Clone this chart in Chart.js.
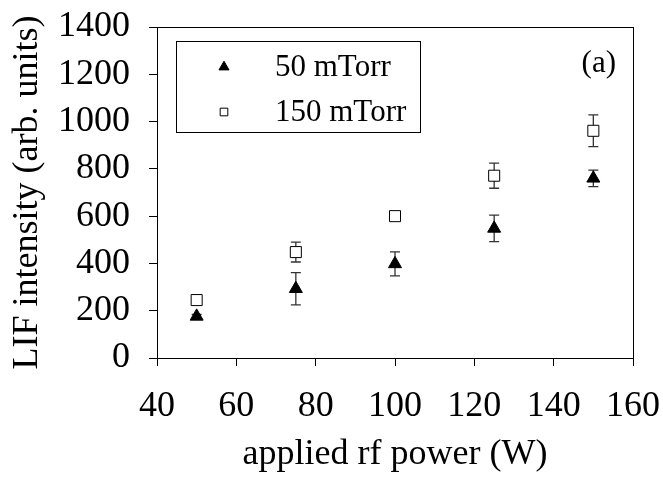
<!DOCTYPE html>
<html>
<head>
<meta charset="utf-8">
<script src="https://cdn.jsdelivr.net/npm/chart.js@4"></script>
<style>
  html, body { margin: 0; padding: 0; background: #fff; }
  #wrap { width: 663px; height: 478px; }
</style>
</head>
<body>
<div id="wrap"><canvas id="lif"></canvas></div>
<script>
// rf power sweep, LIF signal at two pressures
const powers = [50, 75, 100, 125, 150];
const lif50 = [176, 293, 398, 548, 760];
const err50 = [8, 68, 51, 56, 35];
const lif150 = [245, 448, 600, 771, 961];
const err150 = [8, 42, 8, 53, 67];
const xTicks = [40, 60, 80, 100, 120, 140, 160];
const yTicks = [0, 200, 400, 600, 800, 1000, 1200, 1400];
const seriesNames = ['50 mTorr', '150 mTorr'];

const SERIF = "'Liberation Serif', 'Times New Roman', serif";
Chart.defaults.font.family = SERIF;
Chart.defaults.color = '#000';

function toPoints(xs, ys, es) {
    return xs.map((x, i) => ({ x: x, y: ys[i], err: es[i] }));
}

// layout padding alone decides the plot area, so drop the label overhang
function fixBox(s, size) {
    if (s.isHorizontal()) s.height = size; else s.width = size;
    s.paddingLeft = s.paddingRight = s.paddingTop = s.paddingBottom = 0;
}

// vertical error bars with caps, under the markers
const errorBars = {
    id: 'errorBars',
    beforeDatasetsDraw(chart) {
        const ctx = chart.ctx;
        const yScale = chart.scales.y;
        ctx.save();
        ctx.strokeStyle = '#333';
        ctx.lineWidth = 1.3;
        chart.data.datasets.forEach((ds, i) => {
            const meta = chart.getDatasetMeta(i);
            ds.data.forEach((p, j) => {
                const x = meta.data[j].x;
                const top = yScale.getPixelForValue(p.y + p.err);
                const bot = yScale.getPixelForValue(p.y - p.err);
                ctx.beginPath();
                ctx.moveTo(x, top); ctx.lineTo(x, bot);
                ctx.moveTo(x - 5, top); ctx.lineTo(x + 5, top);
                ctx.moveTo(x - 5, bot); ctx.lineTo(x + 5, bot);
                ctx.stroke();
            });
        });
        ctx.restore();
    }
};

// plot frame, boxed legend and panel tag
const frameAndLegend = {
    id: 'frameAndLegend',
    afterDraw(chart) {
        const ctx = chart.ctx;
        const a = chart.chartArea;
        ctx.save();
        ctx.strokeStyle = '#000';
        ctx.lineWidth = 1;
        ctx.strokeRect(Math.round(a.left) + 0.5, Math.round(a.top) + 0.5,
            Math.round(a.right - a.left), Math.round(a.bottom - a.top));

        // legend box
        ctx.strokeRect(176.5, 41.5, 244, 91);
        const rows = [67, 112];
        chart.data.datasets.forEach((ds, i) => {
            ctx.fillStyle = ds.backgroundColor;
            ctx.strokeStyle = ds.borderColor;
            ctx.lineWidth = 1;
            Chart.helpers.drawPoint(ctx, { pointStyle: ds.pointStyle, radius: i === 0 ? 5.8 : 5.4, borderWidth: 1 }, 224, rows[i]);
        });
        ctx.fillStyle = '#000';
        ctx.font = '31px ' + SERIF;
        ctx.textAlign = 'left';
        ctx.textBaseline = 'middle';
        seriesNames.forEach((name, i) => ctx.fillText(name, 275, rows[i] + 1));

        ctx.textAlign = 'right';
        ctx.fillText('(a)', 616, 64);
        ctx.restore();
    }
};

new Chart(document.getElementById('lif'), {
    type: 'scatter',
    data: {
        datasets: [
            {
                label: seriesNames[0],
                data: toPoints(powers, lif50, err50),
                pointStyle: 'triangle',
                pointRadius: 7.5,
                backgroundColor: '#000',
                borderColor: '#000',
                borderWidth: 1
            },
            {
                label: seriesNames[1],
                data: toPoints(powers, lif150, err150),
                pointStyle: 'rect',
                pointRadius: 7.8,
                backgroundColor: '#fff',
                borderColor: '#000',
                borderWidth: 1
            }
        ]
    },
    options: {
        responsive: true,
        maintainAspectRatio: false,
        animation: false,
        layout: { padding: { top: 27, right: 30, left: 0, bottom: 0 } },
        plugins: { legend: { display: false }, tooltip: { enabled: false } },
        scales: {
            x: {
                type: 'linear',
                min: 40, max: 160,
                afterBuildTicks: s => { s.ticks = xTicks.map(v => ({ value: v })); },
                afterFit: s => fixBox(s, 120),
                grid: { drawOnChartArea: false, drawTicks: true, tickLength: 8, color: '#000' },
                border: { display: true, color: '#000' },
                ticks: { font: { size: 36 }, padding: 19, maxRotation: 0, autoSkip: false, callback: v => String(v) },
                title: {
                    display: true,
                    text: 'applied rf power (W)',
                    font: { size: 36, lineHeight: 1 },
                    padding: { bottom: 5, top: 0 }
                }
            },
            y: {
                type: 'linear',
                min: 0, max: 1400,
                afterBuildTicks: s => { s.ticks = yTicks.map(v => ({ value: v })); },
                afterFit: s => fixBox(s, 157),
                grid: { drawOnChartArea: false, drawTicks: true, tickLength: 8, color: '#000' },
                border: { display: true, color: '#000' },
                ticks: { font: { size: 36 }, padding: 19, autoSkip: false, callback: v => String(v) },
                title: {
                    display: true,
                    text: 'LIF intensity (arb. units)',
                    font: { size: 36, lineHeight: 1 },
                    padding: { top: 10, bottom: 0 }
                }
            }
        }
    },
    plugins: [errorBars, frameAndLegend]
});
</script>
</body>
</html>
